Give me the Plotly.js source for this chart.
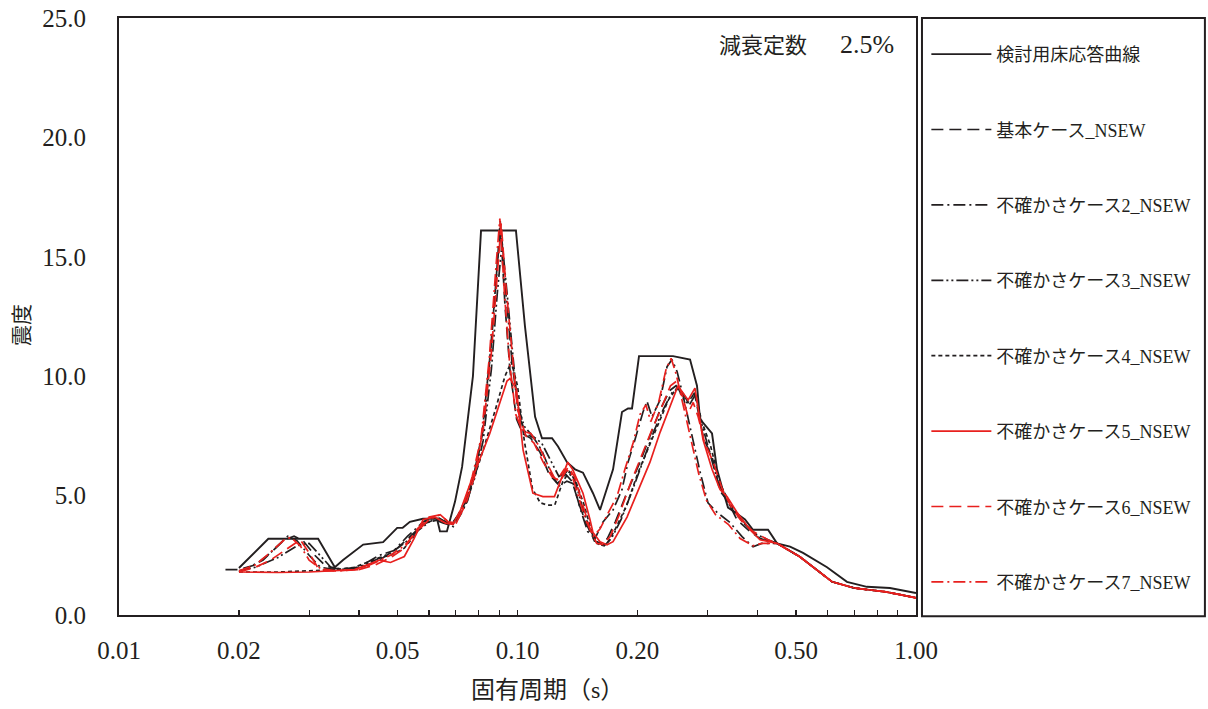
<!DOCTYPE html>
<html>
<head>
<meta charset="utf-8">
<script src="https://cdn.plot.ly/plotly-3.0.1.min.js"></script>
<style>html,body{margin:0;padding:0;background:#fff;}#chart{width:1208px;height:709px;}</style>
</head>
<body>
<div id="chart"></div>
<script>
// ---- data (period [s], seismic intensity) ----
const seriesNames = ["検討用床応答曲線","基本ケース_NSEW","不確かさケース2_NSEW","不確かさケース3_NSEW","不確かさケース4_NSEW","不確かさケース5_NSEW","不確かさケース6_NSEW","不確かさケース7_NSEW"];

const T_env = [0.02,0.0237,0.0316,0.0348,0.0365,0.041,0.046,0.0499,0.0515,0.0537,0.0579,0.0628,0.0639,0.0665,0.0697,0.0726,0.0773,0.081,0.0991,0.1044,0.1107,0.1152,0.1221,0.1264,0.1331,0.1394,0.146,0.1547,0.1611,0.1737,0.1829,0.1894,0.1938,0.2018,0.2456,0.271,0.2821,0.2871,0.3077,0.3167,0.3278,0.3375,0.3514,0.3723,0.3899,0.4253,0.448,0.483,0.5206,0.598,0.671,0.753,0.86,1.0];
const Sa_env = [1.97,3.19,3.19,2.0,2.3,2.95,3.05,3.65,3.65,3.9,4.03,4.03,3.5,3.5,4.75,6.2,10.0,16.1,16.1,12.1,8.3,7.4,7.4,7.06,6.4,6.1,5.96,5.1,4.4,6.1,8.5,8.65,8.65,10.84,10.84,10.7,9.6,8.2,7.6,6.1,5.2,4.5,4.3,4.0,3.57,3.57,3.0,2.86,2.6,2.0,1.39,1.18,1.13,0.92];

const T_base = [0.0185,0.02,0.022,0.024,0.026,0.0275,0.029,0.031,0.033,0.036,0.04,0.045,0.05,0.054,0.058,0.062,0.065,0.068,0.071,0.074,0.078,0.0815,0.0855,0.0888,0.0905,0.093,0.0958,0.0995,0.103,0.108,0.114,0.12,0.126,0.132,0.137,0.143,0.149,0.156,0.162,0.168,0.176,0.189,0.203,0.215,0.228,0.241,0.25,0.26,0.268,0.278,0.285,0.293,0.308,0.322,0.336,0.355,0.383,0.406,0.448,0.51,0.616,0.70,0.84,1.0];
const Sa_base = [1.9,1.9,2.1,2.6,3.15,3.3,3.1,2.5,2.05,1.9,1.95,2.3,2.8,3.3,3.8,4.0,3.85,3.75,4.2,4.7,6.0,7.6,11.0,14.5,16.5,13.0,10.2,8.2,7.6,7.4,6.8,5.9,5.5,5.9,5.6,4.6,3.8,3.1,3.0,3.2,3.9,5.2,6.4,7.5,8.6,9.4,9.6,9.3,8.9,9.3,8.4,7.4,6.6,5.2,4.8,4.0,3.5,3.2,3.0,2.45,1.39,1.13,0.97,0.72];

const T_c2 = [0.02,0.023,0.025,0.0265,0.028,0.030,0.032,0.035,0.04,0.045,0.049,0.053,0.058,0.063,0.066,0.069,0.072,0.075,0.079,0.0825,0.086,0.0893,0.091,0.0935,0.097,0.101,0.105,0.11,0.115,0.121,0.127,0.133,0.138,0.144,0.15,0.1565,0.1639,0.1737,0.1829,0.1894,0.1972,0.2065,0.2113,0.2175,0.2279,0.2373,0.2442,0.2514,0.2602,0.2742,0.2871,0.3006,0.3167,0.3414,0.366,0.39,0.41,0.448,0.51,0.616,0.70,0.84,1.0];
const Sa_c2 = [1.8,2.3,2.9,3.3,3.1,2.5,2.0,1.9,2.0,2.5,2.7,3.3,3.9,4.1,3.9,3.7,4.2,4.8,6.3,8.0,11.5,15.0,16.1,13.5,10.5,8.3,7.6,7.4,6.9,6.0,5.4,5.6,5.5,4.4,3.5,3.2,3.9,4.4,5.25,6.4,7.35,8.5,8.95,8.3,9.0,10.4,10.7,10.2,9.2,7.5,6.0,4.7,4.3,3.87,3.28,2.86,3.0,3.0,2.45,1.39,1.13,0.97,0.72];

const T_c3 = [0.02,0.022,0.025,0.028,0.030,0.032,0.034,0.037,0.04,0.044,0.048,0.052,0.056,0.06,0.064,0.068,0.071,0.074,0.078,0.082,0.086,0.089,0.0915,0.094,0.097,0.1,0.104,0.109,0.115,0.121,0.127,0.133,0.139,0.145,0.151,0.158,0.165,0.172,0.182,0.195,0.208,0.22,0.232,0.244,0.253,0.262,0.27,0.279,0.29,0.303,0.318,0.332,0.35,0.372,0.395,0.425,0.448,0.51,0.616,0.70,0.84,1.0];
const Sa_c3 = [1.85,2.0,2.4,2.9,3.0,2.5,2.0,1.9,2.0,2.3,2.6,3.0,3.5,3.9,4.0,3.8,4.1,4.6,5.7,7.3,10.3,13.5,15.6,13.6,11.0,8.8,7.9,7.5,7.2,6.5,5.8,6.0,5.7,4.6,3.7,3.0,2.9,3.2,4.0,5.3,6.6,7.7,8.6,9.3,9.5,9.0,8.8,9.2,8.0,6.9,5.6,4.9,4.3,3.8,3.4,3.15,3.0,2.45,1.39,1.13,0.97,0.72];

const T_c4 = [0.02,0.025,0.03,0.035,0.039,0.042,0.045,0.048,0.052,0.055,0.058,0.062,0.066,0.069,0.072,0.077,0.082,0.088,0.093,0.0965,0.1,0.104,0.109,0.114,0.119,0.124,0.13,0.135,0.14,0.147,0.154,0.161,0.168,0.176,0.188,0.2,0.213,0.226,0.239,0.251,0.262,0.27,0.279,0.29,0.305,0.322,0.336,0.356,0.383,0.406,0.448,0.51,0.616,0.70,0.84,1.0];
const Sa_c4 = [1.8,1.8,1.85,1.9,2.0,2.2,2.4,2.5,2.8,3.3,3.9,4.1,3.9,3.8,4.4,5.5,6.9,8.6,10.0,10.6,9.6,7.3,5.3,4.7,4.6,4.6,5.6,6.0,5.6,4.6,3.4,2.9,3.0,3.6,4.6,5.9,7.0,8.1,9.0,9.5,9.1,9.0,9.3,8.1,7.1,5.5,4.9,4.2,3.6,3.2,3.0,2.45,1.39,1.13,0.97,0.72];

const T_c5 = [0.02,0.025,0.03,0.035,0.039,0.042,0.045,0.048,0.052,0.055,0.058,0.062,0.066,0.0689,0.072,0.0761,0.0852,0.0941,0.0957,0.0994,0.1033,0.1093,0.1158,0.1238,0.1337,0.1375,0.146,0.152,0.1547,0.1611,0.1677,0.1737,0.1883,0.2029,0.215,0.2279,0.2414,0.2528,0.2602,0.2679,0.2788,0.2837,0.2921,0.3077,0.3223,0.3356,0.3554,0.3832,0.406,0.448,0.51,0.616,0.70,0.84,1.0];
const Sa_c5 = [1.8,1.78,1.8,1.85,1.9,2.1,2.3,2.2,2.45,3.2,4.0,4.1,3.85,3.8,4.4,5.5,7.6,9.8,9.9,9.45,6.9,5.1,4.96,4.96,6.4,6.1,5.1,4.0,3.45,3.07,2.94,3.07,4.1,5.4,6.4,7.65,8.74,9.6,9.3,9.0,9.5,8.7,7.35,6.1,5.25,4.96,4.3,3.57,3.15,3.0,2.45,1.39,1.13,0.97,0.72];

const T_c6 = [0.02,0.022,0.024,0.026,0.0275,0.0285,0.030,0.0315,0.033,0.035,0.04,0.044,0.048,0.052,0.056,0.06,0.064,0.067,0.07,0.074,0.078,0.082,0.086,0.0892,0.091,0.0935,0.0965,0.1,0.105,0.11,0.116,0.122,0.128,0.134,0.139,0.145,0.152,0.158,0.164,0.171,0.18,0.192,0.205,0.218,0.23,0.242,0.251,0.259,0.267,0.276,0.284,0.295,0.31,0.326,0.342,0.362,0.39,0.425,0.448,0.51,0.616,0.70,0.84,1.0];
const Sa_c6 = [1.8,2.0,2.3,2.7,3.0,3.15,2.6,2.0,1.85,1.85,1.9,2.1,2.4,2.8,3.6,4.1,4.2,3.9,3.85,4.6,5.8,7.8,11.0,14.4,16.4,13.8,11.5,8.6,7.5,7.2,6.4,5.8,5.6,6.2,5.8,4.8,3.6,3.0,2.95,3.3,4.2,5.5,6.7,7.8,8.7,9.6,9.8,9.2,8.4,8.9,8.3,7.2,6.4,5.3,4.6,4.0,3.5,3.15,3.0,2.45,1.39,1.13,0.97,0.72];

const T_c7 = [0.02,0.022,0.0235,0.025,0.026,0.027,0.0285,0.030,0.032,0.035,0.04,0.044,0.048,0.052,0.056,0.06,0.064,0.067,0.07,0.073,0.077,0.081,0.085,0.0885,0.0903,0.0928,0.0955,0.099,0.103,0.108,0.113,0.119,0.125,0.131,0.136,0.142,0.148,0.155,0.161,0.168,0.178,0.186,0.195,0.203,0.21,0.216,0.226,0.236,0.243,0.25,0.258,0.27,0.285,0.298,0.314,0.338,0.362,0.39,0.41,0.448,0.51,0.616,0.70,0.84,1.0];
const Sa_c7 = [1.85,2.1,2.5,2.9,3.15,3.25,2.9,2.3,1.95,1.85,1.9,2.2,2.5,2.9,3.5,4.0,4.2,3.9,3.8,4.5,5.8,7.4,10.8,14.8,16.6,13.4,10.6,8.4,7.7,7.6,7.1,6.3,5.6,6.1,6.0,5.0,4.0,3.3,3.6,4.2,5.0,6.1,7.2,8.4,8.8,8.1,8.9,10.3,10.75,10.1,9.1,7.6,5.9,4.8,4.2,3.8,3.2,2.9,3.0,3.0,2.45,1.39,1.13,0.97,0.72];

const xTickVals = [0.01,0.02,0.03,0.04,0.05,0.06,0.07,0.08,0.09,0.1,0.2,0.3,0.4,0.5,0.6,0.7,0.8,0.9,1.0];
const xTickText = ["0.01","0.02","","","0.05","","","","","0.10","0.20","","","0.50","","","","","1.00"];
const yTickVals = [0,5,10,15,20,25];
const yTickText = ["0.0","5.0","10.0","15.0","20.0","25.0"];

// ---- styling ----
const BLACK = "#231f20", RED = "#e8201e";
const styles = [
  {color: BLACK, dash: "solid", width: 1.9},
  {color: BLACK, dash: "12px,6px", width: 1.7},
  {color: BLACK, dash: "12px,4px,2px,4px", width: 1.7},
  {color: BLACK, dash: "12px,3px,2px,3px,2px,3px", width: 1.7},
  {color: BLACK, dash: "4px,3px", width: 1.7},
  {color: RED, dash: "solid", width: 1.7},
  {color: RED, dash: "12px,6px", width: 1.7},
  {color: RED, dash: "12px,4px,2px,4px", width: 1.7}
];
const xs = [T_env, T_base, T_c2, T_c3, T_c4, T_c5, T_c6, T_c7];
const ys = [Sa_env, Sa_base, Sa_c2, Sa_c3, Sa_c4, Sa_c5, Sa_c6, Sa_c7];

const FONT = '"Liberation Serif", "Times New Roman", "Noto Sans CJK JP", serif';

const traces = xs.map((x, i) => ({
  type: "scatter", mode: "lines", x: x, y: ys[i], name: seriesNames[i],
  legendgroup: "g" + i,
  line: {color: styles[i].color, dash: styles[i].dash, width: styles[i].width}
}));

const layout = {
  width: 1208, height: 709,
  margin: {l: 119, r: 292, t: 18, b: 94},
  paper_bgcolor: "#fff", plot_bgcolor: "#fff",
  font: {family: FONT, size: 20, color: "#231f20"},
  showlegend: true,
  legend: {
    x: 1.013, xanchor: "left", y: 0.970, yanchor: "top",
    font: {family: FONT, size: 18, color: "#231f20"},
    bgcolor: "rgba(0,0,0,0)", borderwidth: 0,
    traceorder: "grouped", tracegroupgap: 49, itemwidth: 60
  },
  xaxis: {
    type: "log", range: [-2, 0], tickmode: "array", tickvals: xTickVals, ticktext: xTickText,
    ticks: "inside", ticklen: 5, tickwidth: 1.2, tickcolor: "#231f20",
    showline: true, linecolor: "#231f20", linewidth: 2, mirror: true,
    showgrid: false, zeroline: false, ticklabelstandoff: 12,
    tickfont: {family: FONT, size: 25}
  },
  yaxis: {
    range: [0, 25], tickmode: "array", tickvals: yTickVals, ticktext: yTickText,
    ticks: "", showline: true, linecolor: "#231f20", linewidth: 2, mirror: true,
    showgrid: false, zeroline: false, ticklabelstandoff: 26,
    tickfont: {family: FONT, size: 25}
  },
  shapes: [
    {type: "rect", xref: "paper", yref: "paper", x0: 1.0075, x1: 1.3625, y0: -0.002, y1: 1.0,
     line: {color: "#231f20", width: 2}, fillcolor: "rgba(0,0,0,0)"}
  ],
  annotations: [
    {xref: "paper", yref: "paper", x: 0.975, y: 0.955, xanchor: "right", yanchor: "middle",
     text: "減衰定数　\u00a0\u00a0<span style=\"font-size:26px\">2.5%</span>", showarrow: false, font: {family: FONT, size: 22}},
    {xref: "paper", yref: "paper", x: 0.538, y: -0.125, xanchor: "center", yanchor: "middle",
     text: "固有周期（s）", showarrow: false, font: {family: FONT, size: 24}},
    {xref: "paper", yref: "paper", x: -0.121, y: 0.485, xanchor: "center", yanchor: "middle",
     text: "震度", textangle: -90, showarrow: false, font: {family: FONT, size: 21}}
  ]
};

Plotly.newPlot("chart", traces, layout, {displayModeBar: false, staticPlot: true});
</script>
</body>
</html>
